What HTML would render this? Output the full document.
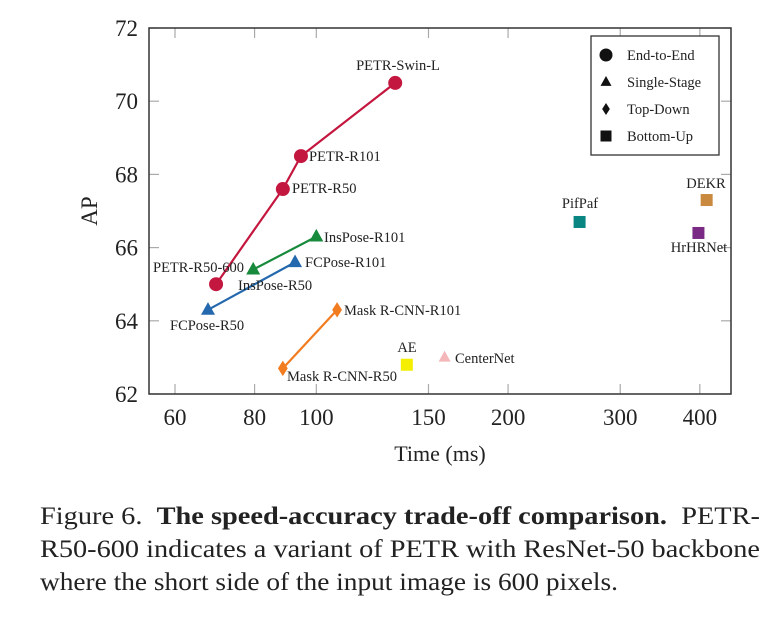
<!DOCTYPE html>
<html><head><meta charset="utf-8"><style>
body{margin:0;background:#fff;width:783px;height:618px;overflow:hidden;font-family:"Liberation Serif",serif}
.ln{position:absolute;left:40px;font-size:25px;color:#222;white-space:nowrap;transform-origin:0 0}
</style></head><body>
<svg id="chart" width="783" height="500" style="position:absolute;left:0;top:0" font-family="Liberation Serif, serif"></svg>
<div>
<div class="ln" data-w="720" style="top:503px">Figure 6.&nbsp; <b>The speed-accuracy trade-off comparison.</b>&nbsp; PETR-</div>
<div class="ln" data-w="720" style="top:536px">R50-600 indicates a variant of PETR with ResNet-50 backbone</div>
<div class="ln" data-w="578" style="top:569px">where the short side of the input image is 600 pixels.</div>
</div>
<script>
const xTicks=[60,80,100,150,200,300,400];
const yTicks=[62,64,66,68,70,72];
const petrT=[69.6,88.6,94.6,133]; const petrAP=[65.0,67.6,68.5,70.5];
const petrNames=["PETR-R50-600","PETR-R50","PETR-R101","PETR-Swin-L"];
const insT=[79.6,100]; const insAP=[65.4,66.3]; const insNames=["InsPose-R50","InsPose-R101"];
const fcT=[67.6,92.6]; const fcAP=[64.3,65.6]; const fcNames=["FCPose-R50","FCPose-R101"];
const maskT=[88.6,107.8]; const maskAP=[62.7,64.3]; const maskNames=["Mask R-CNN-R50","Mask R-CNN-R101"];
const singleNames=["AE","CenterNet","PifPaf","DEKR","HrHRNet"];
const singleT=[138.7,159,259,410,398];
const singleAP=[62.8,63.0,66.7,67.3,66.4];

document.querySelectorAll('.ln').forEach(d=>{const w=d.getBoundingClientRect().width;d.style.transform='scale('+(+d.dataset.w/w)+',1)';});

const NS="http://www.w3.org/2000/svg";const svg=document.getElementById('chart');
const L=149,R=731,T=28,B=394;
const X=t=>175+637*Math.log10(t/60);
const Y=v=>B-(v-62)*(B-T)/10;
function mk(tag,at,parent){const e=document.createElementNS(NS,tag);for(const k in at)e.setAttribute(k,at[k]);(parent||svg).appendChild(e);return e;}
function txt(s,x,y,size,anchor,name){const e=mk('text',{x:x,y:y,'font-size':size,'text-anchor':anchor||'start',fill:'#222'});e.textContent=s;return e;}
xTicks.forEach(t=>{const x=X(t);
 mk('line',{x1:x,x2:x,y1:B,y2:B-10,stroke:'#aaa','stroke-width':1.2});
 mk('line',{x1:x,x2:x,y1:T,y2:T+10,stroke:'#aaa','stroke-width':1.2});
 txt(String(t),x,425,23,'middle','x-tick-label');});
yTicks.forEach(v=>{const y=Y(v);
 mk('line',{x1:L,x2:L+10,y1:y,y2:y,stroke:'#aaa','stroke-width':1.2});
 mk('line',{x1:R,x2:R-10,y1:y,y2:y,stroke:'#aaa','stroke-width':1.2});
 txt(String(v),138,y+8,23,'end','y-tick-label');});
const frame=mk('rect',{x:L,y:T,width:R-L,height:B-T,fill:'none',stroke:'#333','stroke-width':1.5});

txt('Time (ms)',440,461,22,'middle','x-axis-title');
const yt=txt('AP',0,0,23,'middle','y-axis-title');yt.setAttribute('transform','translate(97,211) rotate(-90)');
function marker(shape,x,y,c,s){
 if(shape==='circle')return mk('circle',{cx:x,cy:y,r:s,fill:c});
 if(shape==='tri')return mk('polygon',{points:`${x},${y-s*1.1} ${x-s},${y+s*0.7} ${x+s},${y+s*0.7}`,fill:c});
 if(shape==='dia')return mk('polygon',{points:`${x},${y-s*1.1} ${x+s*0.7},${y} ${x},${y+s*1.1} ${x-s*0.7},${y}`,fill:c});
 return mk('rect',{x:x-s,y:y-s,width:2*s,height:2*s,fill:c});}
function series(ts,aps,color,shape,size,name){
 const pts=ts.map((t,i)=>X(t)+','+Y(aps[i])).join(' ');
 const l=mk('polyline',{points:pts,fill:'none',stroke:color,'stroke-width':2.2});
 
 ts.forEach((t,i)=>{const m=marker(shape,X(t),Y(aps[i]),color,size);
  });}
series(petrT,petrAP,'#c4173f','circle',7,'petr');
series(insT,insAP,'#178a3c','tri',7,'inspose');
series(fcT,fcAP,'#2469ad','tri',7,'fcpose');
series(maskT,maskAP,'#f27c20','dia',7,'mask-rcnn');
const sColors=['#f4ee00','#f4b6b8','#0a8682','#c98a40','#7a2a84'];
const sShapes=['sq','tri','sq','sq','sq'];
singleT.forEach((t,i)=>{const m=marker(sShapes[i],X(t),Y(singleAP[i]),sColors[i],6);
 });
const lab=(s,x,y,a)=>txt(s,x,y,14.5,a||'start','point-label');
lab(petrNames[3],398,70,'middle');lab(petrNames[2],309,161);lab(petrNames[1],292,193);lab(petrNames[0],153,272);
lab(insNames[1],324,242);lab(insNames[0],238,290);lab(fcNames[1],305,267);lab(fcNames[0],170,330);
lab(maskNames[1],344,315);lab(maskNames[0],287,381);
lab(singleNames[0],407,352,'middle');lab(singleNames[1],455,363);lab(singleNames[2],580,208,'middle');lab(singleNames[3],706,188,'middle');lab(singleNames[4],699,252,'middle');
const lg=mk('g',{});
mk('rect',{x:591,y:36,width:128,height:119,fill:'#fff',stroke:'#333','stroke-width':1.3},lg);
const lgNames=['End-to-End','Single-Stage','Top-Down','Bottom-Up'];const lgShapes=['circle','tri','dia','sq'];
lgNames.forEach((n,i)=>{const y=55+i*27;const m=marker(lgShapes[i],606,y,'#111',i===0?6.5:5.5);lg.appendChild(m);
 const t=txt(n,627,y+5,14.5,'start','legend-entry');lg.appendChild(t);});
</script>
</body></html>
